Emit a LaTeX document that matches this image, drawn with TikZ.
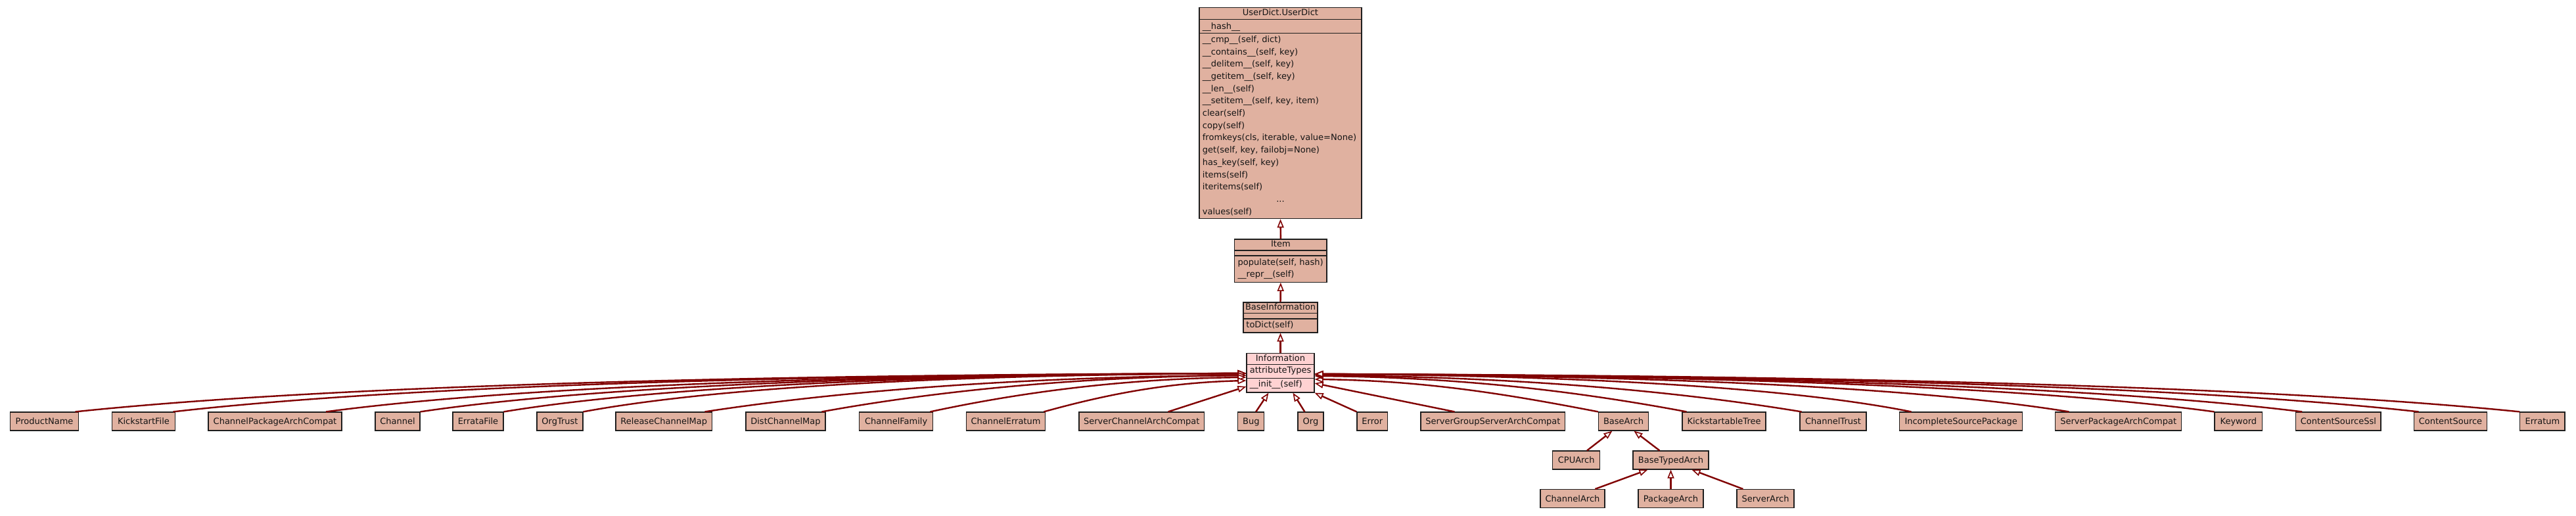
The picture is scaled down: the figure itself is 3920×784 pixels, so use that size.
\documentclass[tikz,border=0pt]{standalone}
\usepackage{fontspec}
\setmainfont{DejaVu Sans}
\usetikzlibrary{arrows.meta,calc}
\definecolor{boxc}{RGB}{224,177,160}
\definecolor{infoc}{RGB}{255,210,210}
\definecolor{bordc}{RGB}{30,30,30}
\definecolor{edgec}{RGB}{128,0,0}
\definecolor{txtc}{RGB}{20,20,20}
\begin{document}
\begin{tikzpicture}[x=0.5pt,y=-0.5pt,
  fnt/.style={font=\fontsize{6.5pt}{9.35pt}\selectfont, text=txtc},
  cls/.style={fnt, draw=bordc, fill=boxc, line width=0.6pt, minimum height=14pt, inner sep=0pt, text height=4.75pt, text depth=0pt},
  big/.style={draw=bordc, fill=boxc, line width=0.6pt, inner sep=0pt},
  sep/.style={draw=bordc, line width=0.6pt},
  lbl/.style={fnt, anchor=base west, inner sep=0pt},
  ttl/.style={fnt, anchor=base, inner sep=0pt},
  inh/.style={draw=edgec, line width=1.2pt, -{Triangle[length=6.5pt,width=5pt,fill=white,line width=0.8pt]}}
]
\useasboundingbox (0,0) rectangle (3920,784);

% ---------- UserDict ----------
\node[big, minimum width=123.5pt, minimum height=160.5pt] (userdict) at (1948.5,172.2) {};
\draw[sep] (1825,29.3) -- (2072,29.3);
\draw[sep] (1825,50.7) -- (2072,50.7);
\node[ttl] (udt) at (1948.5,23.3) {UserDict.UserDict};
\node[lbl] (uda) at (1829.5,44) {\_\_hash\_\_};
\node[lbl] (ud1) at (1829.5,64.3) {\_\_cmp\_\_(self, dict)};
\node[lbl] (ud2) at (1829.5,83.0) {\_\_contains\_\_(self, key)};
\node[lbl] (ud3) at (1829.5,101.7) {\_\_delitem\_\_(self, key)};
\node[lbl] (ud4) at (1829.5,120.4) {\_\_getitem\_\_(self, key)};
\node[lbl] (ud5) at (1829.5,139.1) {\_\_len\_\_(self)};
\node[lbl] (ud6) at (1829.5,157.8) {\_\_setitem\_\_(self, key, item)};
\node[lbl] (ud7) at (1829.5,176.5) {clear(self)};
\node[lbl] (ud8) at (1829.5,195.2) {copy(self)};
\node[lbl] (ud9) at (1829.5,213.9) {fromkeys(cls, iterable, value=None)};
\node[lbl] (ud10) at (1829.5,232.6) {get(self, key, failobj=None)};
\node[lbl] (ud11) at (1829.5,251.3) {has\_key(self, key)};
\node[lbl] (ud12) at (1829.5,270.0) {items(self)};
\node[lbl] (ud13) at (1829.5,288.7) {iteritems(self)};
\node[ttl] (ud14) at (1948.5,307.4) {...};
\node[lbl] (ud15) at (1829.5,326.1) {values(self)};

% ---------- Item ----------
\node[big, minimum width=70.15pt, minimum height=32.65pt] (item) at (1948.85,396.65) {};
\draw[sep] (1878.7,381) -- (2019,381);
\draw[sep] (1878.7,389) -- (2019,389);
\node[ttl] (itemt) at (1948.85,375) {Item};
\node[lbl] (item1) at (1883.3,403.3) {populate(self, hash)};
\node[lbl] (item2) at (1883.3,421) {\_\_repr\_\_(self)};

% ---------- BaseInformation ----------
\node[big, minimum width=56.5pt, minimum height=23pt] (baseinfo) at (1948.5,483) {};
\draw[sep] (1892,476.7) -- (2005,476.7);
\draw[sep] (1892,485) -- (2005,485);
\node[ttl] (baseinfot) at (1948.5,471) {BaseInformation};
\node[lbl] (baseinfo1) at (1896,498.7) {toDict(self)};

% ---------- Information ----------
\node[big, fill=infoc, minimum width=51.5pt, minimum height=29.85pt] (info) at (1948.5,567.15) {};
\draw[sep] (1897,554.3) -- (2000,554.3);
\draw[sep] (1897,575.3) -- (2000,575.3);
\node[ttl] (infot) at (1948.5,549.3) {Information};
\node[lbl] (info1) at (1901.5,567.7) {attributeTypes};
\node[lbl] (info2) at (1901.5,588.3) {\_\_init\_\_(self)};

% ---------- bottom row ----------
\node[cls, minimum width=52pt] (productname) at (67.6,641) {ProductName};
\node[cls, minimum width=48pt] (kickstartfile) at (218.5,641) {KickstartFile};
\node[cls, minimum width=101.5pt] (cpac) at (418.5,641) {ChannelPackageArchCompat};
\node[cls, minimum width=34pt] (channel) at (605,641) {Channel};
\node[cls, minimum width=38.5pt] (erratafile) at (727.5,641) {ErrataFile};
\node[cls, minimum width=35pt] (orgtrust) at (852,641) {OrgTrust};
\node[cls, minimum width=73.25pt] (rcm) at (1010.25,641) {ReleaseChannelMap};
\node[cls, minimum width=60.5pt] (dcm) at (1195.5,641) {DistChannelMap};
\node[cls, minimum width=56pt] (cf) at (1363.6,641) {ChannelFamily};
\node[cls, minimum width=60pt] (ce) at (1530.5,641) {ChannelErratum};
\node[cls, minimum width=95.3pt] (scac) at (1737.3,641) {ServerChannelArchCompat};
\node[cls, minimum width=20pt] (bug) at (1903.8,641) {Bug};
\node[cls, minimum width=19.5pt] (org) at (1994.5,641) {Org};
\node[cls, minimum width=23.3pt] (error) at (2088.3,641) {Error};
\node[cls, minimum width=109.85pt] (sgsac) at (2271.85,641) {ServerGroupServerArchCompat};
\node[cls, minimum width=38pt] (basearch) at (2470.5,641) {BaseArch};
\node[cls, minimum width=63.5pt] (kt) at (2623.5,641) {KickstartableTree};
\node[cls, minimum width=50.5pt] (ct) at (2789.5,641) {ChannelTrust};
\node[cls, minimum width=93.5pt] (isp) at (2984.15,641) {IncompleteSourcePackage};
\node[cls, minimum width=96pt] (spac) at (3223.65,641) {ServerPackageArchCompat};
\node[cls, minimum width=36.35pt] (keyword) at (3406.35,641) {Keyword};
\node[cls, minimum width=64.65pt] (css) at (3558.35,641) {ContentSourceSsl};
\node[cls, minimum width=55.5pt] (cs) at (3729,641) {ContentSource};
\node[cls, minimum width=34.1pt] (erratum) at (3868.9,641) {Erratum};

\node[cls, minimum width=36pt] (cpuarch) at (2398.7,700) {CPUArch};
\node[cls, minimum width=57.5pt] (bta) at (2542.5,700) {BaseTypedArch};
\node[cls, minimum width=49pt] (channelarch) at (2393,758.5) {ChannelArch};
\node[cls, minimum width=49.5pt] (packagearch) at (2542.5,758.5) {PackageArch};
\node[cls, minimum width=43.5pt] (serverarch) at (2686.5,758.5) {ServerArch};

% ---------- inheritance chain ----------
\draw[inh] (item.north) -- (userdict.south);
\draw[inh] (baseinfo.north) -- (item.south);
\draw[inh] (info.north) -- (baseinfo.south);

% ---------- left children ----------
\draw[inh] ($(productname.north east)+(-5.6,0)$) .. controls +(392,-41) and +(-713,2) .. ($(info.west)+(0,0.85)$);
\draw[inh] ($(kickstartfile.north east)+(-3.5,0)$) .. controls +(359,-41) and +(-654,2) .. ($(info.west)+(0,0.85)$);
\draw[inh] ($(cpac.north east)+(-24.5,0)$) .. controls +(308,-41) and +(-561,2) .. ($(info.west)+(0,0.85)$);
\draw[inh] (channel.north east) .. controls +(277,-41) and +(-503,2) .. ($(info.west)+(0,0.85)$);
\draw[inh] (erratafile.north east) .. controls +(249,-41) and +(-452,2) .. ($(info.west)+(0,0.85)$);
\draw[inh] (orgtrust.north east) .. controls +(222,-41) and +(-404,2) .. ($(info.west)+(0,0.85)$);
\draw[inh] ($(rcm.north east)+(-11.5,0)$) .. controls +(215,-33) and +(-330,2) .. ($(info.west)+(0,3.85)$);
\draw[inh] ($(dcm.north east)+(-6,0)$) .. controls +(170,-31) and +(-259,2) .. ($(info.west)+(0,3.85)$);
\draw[inh] ($(cf.north east)+(-4.6,0)$) .. controls +(130,-28) and +(-193,2) .. ($(info.west)+(0,6.85)$);
\draw[inh] ($(ce.north east)+(-2.6,0)$) .. controls +(90,-25) and +(-124,3) .. ($(info.west)+(0,11.85)$);
\draw[inh] ($(scac.north east)+(-55.6,0)$) -- ($(info.west)+(0,20.85)$);

% ---------- bottom children ----------
\draw[inh] ($(bug.north west)+(28,0)$) -- ($(info.south west)+(34,0)$);
\draw[inh] ($(org.north west)+(11,0)$) -- ($(info.south west)+(71,0)$);
\draw[inh] (error.north west) -- (info.south east);

% ---------- right children ----------
\draw[inh] ($(sgsac.north west)+(52,0)$) -- ($(info.east)+(0,15.85)$);
\draw[inh] (basearch.north west) .. controls +(-130,-25) and +(173,2) .. ($(info.east)+(0,9.85)$);
\draw[inh] ($(kt.north west)+(7,0)$) .. controls +(-160,-30) and +(227,2) .. ($(info.east)+(0,4.85)$);
\draw[inh] ($(ct.north west)+(3,0)$) .. controls +(-200,-33) and +(297,2) .. ($(info.east)+(0,3.85)$);
\draw[inh] ($(isp.north west)+(18.4,0)$) .. controls +(-200,-40) and +(364,2) .. ($(info.east)+(0,1.85)$);
\draw[inh] ($(spac.north west)+(21.3,0)$) .. controls +(-253,-41) and +(460,2) .. ($(info.east)+(0,1.85)$);
\draw[inh] (keyword.north west) .. controls +(-301,-41) and +(548,2) .. ($(info.east)+(0,1.85)$);
\draw[inh] ($(css.north west)+(10,0)$) .. controls +(-331,-41) and +(601,2) .. ($(info.east)+(0,1.85)$);
\draw[inh] ($(cs.north west)+(7.5,0)$) .. controls +(-370,-41) and +(672,2) .. ($(info.east)+(0,1.85)$);
\draw[inh] (erratum.north west) .. controls +(-404,-41) and +(734,2) .. ($(info.east)+(0,1.85)$);

% ---------- arch hierarchy ----------
\draw[inh] ($(cpuarch.north)+(16.3,0)$) -- ($(basearch.south west)+(21.5,0)$);
\draw[inh] ($(bta.north west)+(41,0)$) -- ($(basearch.south west)+(54.5,0)$);
\draw[inh] ($(channelarch.north west)+(84,0)$) -- ($(bta.south west)+(23,0)$);
\draw[inh] (packagearch.north) -- (bta.south);
\draw[inh] ($(serverarch.north west)+(10,0)$) -- ($(bta.south west)+(90,0)$);
\end{tikzpicture}
\end{document}
